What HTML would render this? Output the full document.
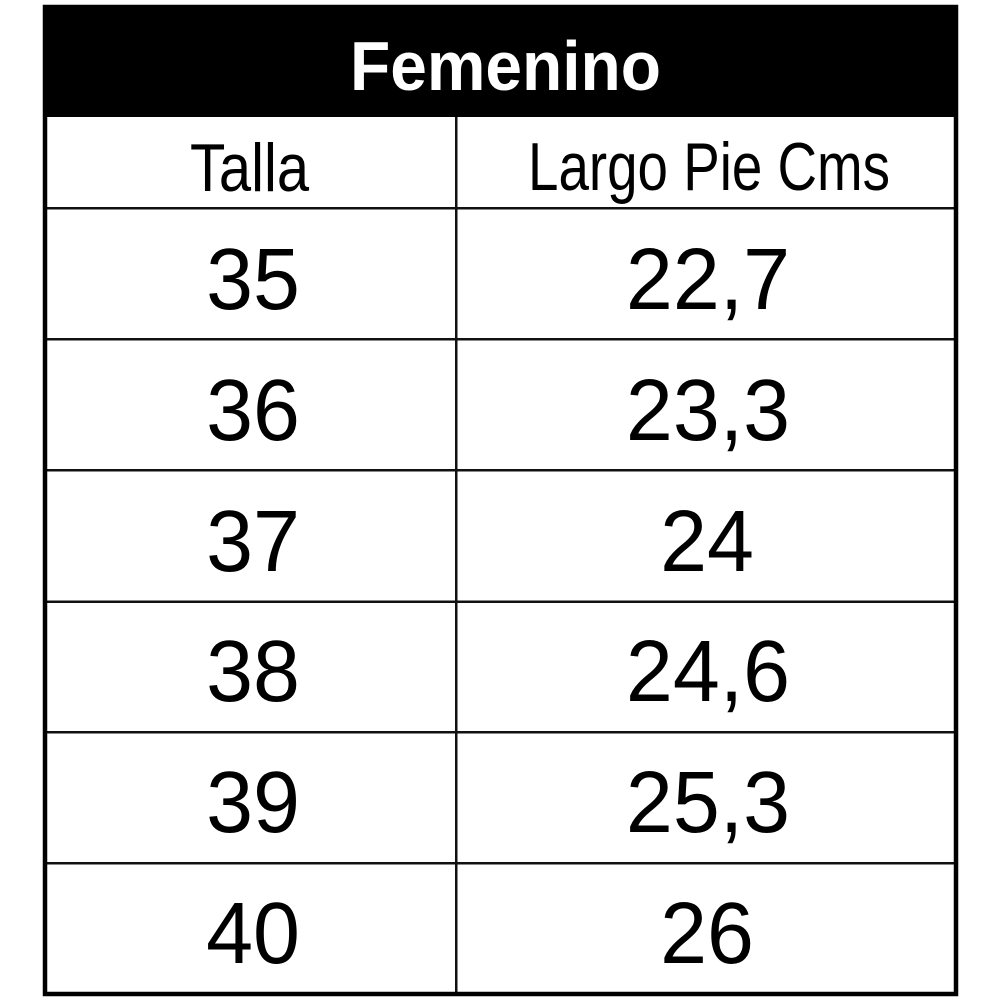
<!DOCTYPE html>
<html>
<head>
<meta charset="utf-8">
<style>
  html, body { margin:0; padding:0; background:#fff; }
  svg { display:block; }
  text { font-family: "Liberation Sans", Arial, sans-serif; }
</style>
</head>
<body>
<svg width="1000" height="1000" viewBox="0 0 1000 1000" xmlns="http://www.w3.org/2000/svg">
  <rect x="0" y="0" width="1000" height="1000" fill="#fff"/>
  <!-- header black -->
  <rect x="43" y="5" width="915" height="112" fill="#000"/>
  <!-- horizontal row lines -->
  <g fill="#111">
    <rect x="45" y="207" width="911" height="2.5"/>
    <rect x="45" y="338" width="911" height="2.5"/>
    <rect x="45" y="469" width="911" height="2.5"/>
    <rect x="45" y="600.5" width="911" height="2.5"/>
    <rect x="45" y="731" width="911" height="2.5"/>
    <rect x="45" y="862" width="911" height="2.5"/>
    <!-- vertical divider -->
    <rect x="455" y="117" width="2.5" height="877"/>
  </g>
  <!-- outer border -->
  <rect x="45" y="7" width="911" height="987" fill="none" stroke="#000" stroke-width="4.5"/>

  <!-- title -->
  <text x="350" y="90" font-size="70" font-weight="bold" fill="#fff" textLength="311" lengthAdjust="spacingAndGlyphs">Femenino</text>

  <!-- column headers -->
  <text x="190" y="191" font-size="68" fill="#000" textLength="119" lengthAdjust="spacingAndGlyphs">Talla</text>
  <text x="528" y="190" font-size="68" fill="#000" textLength="362" lengthAdjust="spacingAndGlyphs">Largo Pie Cms</text>

  <!-- data -->
  <g font-size="87" fill="#000" text-anchor="middle">
    <g transform="translate(253,309) scale(0.97,1)"><text x="0" y="0">35</text></g>
    <g transform="translate(708,309) scale(0.97,1)"><text x="0" y="0">22,7</text></g>

    <g transform="translate(253,440) scale(0.97,1)"><text x="0" y="0">36</text></g>
    <g transform="translate(708,440) scale(0.97,1)"><text x="0" y="0">23,3</text></g>

    <g transform="translate(253,571) scale(0.97,1)"><text x="0" y="0">37</text></g>
    <g transform="translate(707,571) scale(0.97,1)"><text x="0" y="0">24</text></g>

    <g transform="translate(253,701) scale(0.97,1)"><text x="0" y="0">38</text></g>
    <g transform="translate(708,701) scale(0.97,1)"><text x="0" y="0">24,6</text></g>

    <g transform="translate(253,832) scale(0.97,1)"><text x="0" y="0">39</text></g>
    <g transform="translate(708,832) scale(0.97,1)"><text x="0" y="0">25,3</text></g>

    <g transform="translate(253,963) scale(0.97,1)"><text x="0" y="0">40</text></g>
    <g transform="translate(707,963) scale(0.97,1)"><text x="0" y="0">26</text></g>
  </g>
</svg>
</body>
</html>
